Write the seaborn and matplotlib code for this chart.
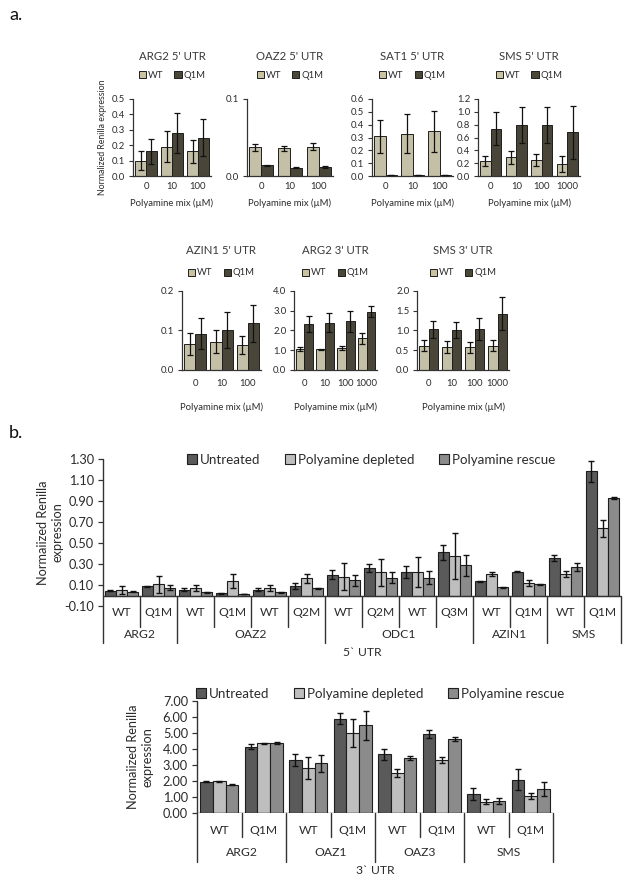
import numpy as np
import pandas as pd
import matplotlib
matplotlib.use("Agg")
import matplotlib.pyplot as plt
import matplotlib.transforms as mtrans
from matplotlib.patches import Patch
import seaborn as sns

sns.set_style("white")
plt.rcParams["font.family"] = ["Lato", "DejaVu Sans"]

# ---------------- data: panel a ----------------
conc3 = ["0", "10", "100"]
conc4 = ["0", "10", "100", "1000"]

arg2_5_wt = [0.10, 0.19, 0.16]
arg2_5_wt_err = [0.06, 0.10, 0.075]
arg2_5_q1m = [0.16, 0.28, 0.25]
arg2_5_q1m_err = [0.08, 0.13, 0.12]

oaz2_5_wt = [0.0375, 0.0358, 0.0383]
oaz2_5_wt_err = [0.0045, 0.003, 0.005]
oaz2_5_q1m = [0.0138, 0.011, 0.012]
oaz2_5_q1m_err = [0.001, 0.001, 0.001]

sat1_5_wt = [0.31, 0.33, 0.35]
sat1_5_wt_err = [0.13, 0.15, 0.16]
sat1_5_q1m = [0.006, 0.006, 0.006]
sat1_5_q1m_err = [0.002, 0.002, 0.002]

sms_5_wt = [0.23, 0.29, 0.25, 0.19]
sms_5_wt_err = [0.08, 0.10, 0.09, 0.12]
sms_5_q1m = [0.74, 0.80, 0.80, 0.68]
sms_5_q1m_err = [0.26, 0.28, 0.28, 0.41]

azin1_5_wt = [0.066, 0.071, 0.063]
azin1_5_wt_err = [0.027, 0.029, 0.023]
azin1_5_q1m = [0.092, 0.101, 0.118]
azin1_5_q1m_err = [0.040, 0.045, 0.046]

arg2_3_wt = [1.06, 1.05, 1.11, 1.60]
arg2_3_wt_err = [0.09, 0.03, 0.12, 0.28]
arg2_3_q1m = [2.33, 2.40, 2.46, 2.95]
arg2_3_q1m_err = [0.42, 0.50, 0.52, 0.28]

sms_3_wt = [0.62, 0.58, 0.57, 0.62]
sms_3_wt_err = [0.14, 0.15, 0.15, 0.13]
sms_3_q1m = [1.03, 1.02, 1.04, 1.42]
sms_3_q1m_err = [0.22, 0.20, 0.27, 0.42]

# ---------------- data: panel b (5' UTR) ----------------
b5_groups = ["ARG2", "OAZ2", "ODC1", "AZIN1", "SMS"]
b5_group_sizes = [2, 4, 4, 2, 2]
b5_labels = ["WT", "Q1M", "WT", "Q1M", "WT", "Q2M", "WT", "Q2M",
             "WT", "Q3M", "WT", "Q1M", "WT", "Q1M"]
b5_untreated = [0.045, 0.088, 0.056, 0.021, 0.055, 0.092, 0.20, 0.26,
                0.225, 0.41, 0.135, 0.225, 0.36, 1.185]
b5_untreated_err = [0.005, 0.005, 0.015, 0.005, 0.015, 0.03, 0.04, 0.04,
                    0.055, 0.07, 0.005, 0.005, 0.03, 0.10]
b5_depleted = [0.056, 0.107, 0.072, 0.139, 0.072, 0.164, 0.18, 0.22,
               0.225, 0.38, 0.205, 0.12, 0.205, 0.64]
b5_depleted_err = [0.038, 0.083, 0.025, 0.067, 0.025, 0.042, 0.13, 0.13,
                   0.145, 0.22, 0.02, 0.03, 0.03, 0.08]
b5_rescue = [0.037, 0.075, 0.031, 0.015, 0.031, 0.07, 0.145, 0.17,
             0.17, 0.29, 0.08, 0.105, 0.27, 0.925]
b5_rescue_err = [0.005, 0.025, 0.005, 0.003, 0.005, 0.005, 0.055, 0.055,
                 0.065, 0.10, 0.005, 0.005, 0.035, 0.01]

# ---------------- data: panel b (3' UTR) ----------------
b3_groups = ["ARG2", "OAZ1", "OAZ3", "SMS"]
b3_group_sizes = [2, 2, 2, 2]
b3_labels = ["WT", "Q1M", "WT", "Q1M", "WT", "Q1M", "WT", "Q1M"]
b3_untreated = [1.95, 4.15, 3.30, 5.89, 3.68, 4.93, 1.21, 2.09]
b3_untreated_err = [0.03, 0.16, 0.36, 0.33, 0.35, 0.25, 0.37, 0.67]
b3_depleted = [1.97, 4.36, 2.82, 5.01, 2.47, 3.30, 0.71, 1.04]
b3_depleted_err = [0.02, 0.03, 0.70, 0.86, 0.25, 0.20, 0.16, 0.18]
b3_rescue = [1.78, 4.36, 3.10, 5.47, 3.45, 4.62, 0.75, 1.50]
b3_rescue_err = [0.02, 0.07, 0.55, 0.88, 0.12, 0.14, 0.18, 0.44]

conditions = ["Untreated", "Polyamine depleted", "Polyamine rescue"]
genotypes = ["WT", "Q1M"]

# ---------------- style ----------------
WT_C = "#c9c3a2"
Q_C = "#4b4737"
U_C = "#5a5a5a"
D_C = "#bebebe"
R_C = "#8b8b8b"
EDGE = "#1e1e1e"
TXT = "#2b2b2b"
AXC = "#333333"

W, H = 624, 885
fig = plt.figure(figsize=(W / 100, H / 100), dpi=100)


def rect(l, t, r, b):
    return [l / W, 1 - b / H, (r - l) / W, (b - t) / H]


def add_err(ax, errs, lw, cap):
    for cont, elist in zip(ax.containers, errs):
        for bar, e in zip(cont, elist):
            x = bar.get_x() + bar.get_width() / 2
            ax.errorbar(x, bar.get_height(), yerr=e, fmt="none", ecolor="#111111",
                        elinewidth=lw, capsize=cap, capthick=lw, zorder=5,
                        clip_on=False)


def panel_a(box, concs, wt, wt_err, q, q_err, ymax, ystep, fmt, title,
            title_y, leg_y, pad, xlab_y, ylabel=False):
    ax = fig.add_axes(rect(*box))
    n = len(concs)
    df = pd.DataFrame({"conc": concs * 2, "val": wt + q,
                       "geno": ["WT"] * n + ["Q1M"] * n})
    sns.barplot(data=df, x="conc", y="val", hue="geno", order=concs,
                hue_order=genotypes, palette=[WT_C, Q_C], width=0.84,
                edgecolor=EDGE, linewidth=0.7, errorbar=None, legend=False,
                ax=ax)
    add_err(ax, [wt_err, q_err], 0.9, 2.0)
    ax.set_xlim(-0.5, n - 0.5)
    ax.set_ylim(0, ymax)
    ticks = np.arange(0, ymax + ystep / 2, ystep)
    ax.set_yticks(ticks)
    ax.set_yticklabels([fmt % t for t in ticks])
    ax.set_xticks(range(n))
    ax.set_xticklabels(concs)
    ax.set_xticks(np.arange(-0.5, n, 1), minor=True)
    ax.tick_params(axis="x", which="major", length=0, pad=pad, labelsize=6.8,
                   labelcolor=TXT)
    ax.tick_params(axis="x", which="minor", length=3, width=0.8, color=AXC,
                   direction="out")
    ax.tick_params(axis="y", length=3, width=0.8, color=AXC, direction="out",
                   pad=2.5, labelsize=6.8, labelcolor=TXT, left=True)
    for s in ["top", "right"]:
        ax.spines[s].set_visible(False)
    for s in ["left", "bottom"]:
        ax.spines[s].set_color(AXC)
        ax.spines[s].set_linewidth(0.9)
    ax.set_xlabel("")
    ax.set_ylabel("")
    ax.text(0.5, xlab_y, "Polyamine mix (\u00b5M)", transform=ax.transAxes,
            ha="center", va="center", fontsize=6.8, color=TXT)
    ax.text(0.5, title_y, title, transform=ax.transAxes, ha="center",
            va="center", fontsize=8.2, color="#3a3a3a")
    handles = [Patch(facecolor=WT_C, edgecolor=EDGE, lw=0.7),
               Patch(facecolor=Q_C, edgecolor=EDGE, lw=0.7)]
    ax.legend(handles, genotypes, ncol=2, loc="center",
              bbox_to_anchor=(0.5, leg_y), frameon=False, fontsize=6.8,
              handlelength=0.75, handleheight=0.75, handletextpad=0.2,
              columnspacing=1.2, labelcolor=TXT, borderpad=0)
    if ylabel:
        ax.text(-0.39, 0.5, "Normalized Renilla expression",
                transform=ax.transAxes, rotation=90, ha="center", va="center",
                fontsize=6.3, color=TXT)
    return ax


# top row of panel a: axes top 99, bottom 176
tr = dict(title_y=(176 - 57) / 77, leg_y=(176 - 75) / 77, pad=4.5,
          xlab_y=-(203 - 176) / 77)
panel_a((133, 99, 211, 176), conc3, arg2_5_wt, arg2_5_wt_err, arg2_5_q1m,
        arg2_5_q1m_err, 0.5, 0.1, "%.1f", "ARG2 5' UTR", ylabel=True, **tr)
panel_a((247, 99, 333, 176), conc3, oaz2_5_wt, oaz2_5_wt_err, oaz2_5_q1m,
        oaz2_5_q1m_err, 0.1, 0.1, "%.1f", "OAZ2 5' UTR", **tr)
panel_a((372, 99, 453, 176), conc3, sat1_5_wt, sat1_5_wt_err, sat1_5_q1m,
        sat1_5_q1m_err, 0.6, 0.1, "%.1f", "SAT1 5' UTR", **tr)
panel_a((478, 99, 580, 176), conc4, sms_5_wt, sms_5_wt_err, sms_5_q1m,
        sms_5_q1m_err, 1.2, 0.2, "%.1f", "SMS 5' UTR", **tr)

# bottom row of panel a: axes top 291, bottom 370
br = dict(title_y=(370 - 251) / 79, leg_y=(370 - 273) / 79, pad=6.5,
          xlab_y=-(407 - 370) / 79)
panel_a((182, 291, 261, 370), conc3, azin1_5_wt, azin1_5_wt_err, azin1_5_q1m,
        azin1_5_q1m_err, 0.2, 0.1, "%.1f", "AZIN1 5' UTR", **br)
panel_a((294, 291, 377, 370), conc4, arg2_3_wt, arg2_3_wt_err, arg2_3_q1m,
        arg2_3_q1m_err, 4.0, 1.0, "%.1f", "ARG2 3' UTR", **br)
panel_a((417, 291, 509, 370), conc4, sms_3_wt, sms_3_wt_err, sms_3_q1m,
        sms_3_q1m_err, 2.0, 0.5, "%.1f", "SMS 3' UTR", **br)


def panel_b(box, groups, sizes, labels, u, ue, d, de, r, re, ylim, ystep,
            cat_line, grp_line, cat_y, grp_y, sec_y, sec_label, leg_xy,
            ylab_x, width):
    ax = fig.add_axes(rect(*box))
    n = len(labels)
    keys = [f"{i}:{lab}" for i, lab in enumerate(labels)]
    df = pd.DataFrame({"key": keys * 3, "val": u + d + r,
                       "cond": [c for c in conditions for _ in range(n)]})
    sns.barplot(data=df, x="key", y="val", hue="cond", order=keys,
                hue_order=conditions, palette=[U_C, D_C, R_C], width=width,
                edgecolor=EDGE, linewidth=0.8, errorbar=None, legend=False,
                ax=ax)
    add_err(ax, [ue, de, re], 1.0, 2.3)
    ax.set_xlim(-0.5, n - 0.5)
    ax.set_ylim(*ylim)
    ticks = np.arange(ylim[0], ylim[1] + ystep / 2, ystep)
    ax.set_yticks(ticks)
    ax.set_yticklabels(["%.2f" % t for t in ticks])
    ax.set_xticks([])
    ax.set_xlabel("")
    ax.set_ylabel("")
    ax.tick_params(axis="y", length=3.5, width=0.9, color=AXC, direction="out",
                   pad=3, labelsize=9.2, labelcolor=TXT, left=True)
    for s in ["top", "right", "bottom", "left"]:
        ax.spines[s].set_visible(False)
    ax.axhline(0, color=AXC, lw=1.0, zorder=6)
    tr_b = mtrans.blended_transform_factory(ax.transData, ax.transAxes)
    y0 = (0 - ylim[0]) / (ylim[1] - ylim[0])
    ax.plot([0, 0], [1, grp_line], transform=ax.transAxes, color=AXC, lw=1.0,
            clip_on=False)
    ends = np.cumsum(sizes)
    for k in range(1, n + 1):
        bottom = grp_line if k in ends else cat_line
        ax.plot([k - 0.5, k - 0.5], [y0, bottom], transform=tr_b, color=AXC,
                lw=1.0, clip_on=False)
    for i, lab in enumerate(labels):
        ax.text(i, cat_y, lab, transform=tr_b, ha="center", va="center",
                fontsize=8.7, color=TXT)
    start = 0
    for g, s in zip(groups, sizes):
        ax.text(start + (s - 1) / 2, grp_y, g, transform=tr_b, ha="center",
                va="center", fontsize=8.7, color=TXT)
        start += s
    ax.text(0.5, sec_y, sec_label, transform=ax.transAxes, ha="center",
            va="center", fontsize=8.7, color=TXT)
    handles = [Patch(facecolor=c, edgecolor=EDGE, lw=0.8)
               for c in [U_C, D_C, R_C]]
    ax.legend(handles, conditions, ncol=3, loc="center",
              bbox_to_anchor=leg_xy, frameon=False, fontsize=9.6,
              handlelength=0.75, handleheight=0.75, handletextpad=0.25,
              columnspacing=1.8, labelcolor=TXT, borderpad=0)
    ax.text(ylab_x, 0.5, "Normaiized Renilla\nexpression",
            transform=ax.transAxes, rotation=90, ha="center", va="center",
            fontsize=9.2, color=TXT, linespacing=1.2)
    return ax


# panel b top: axes top 459 (1.30), bottom 606 (-0.10)
hb = 147.0
panel_b((103, 459, 621, 606), b5_groups, b5_group_sizes, b5_labels,
        b5_untreated, b5_untreated_err, b5_depleted, b5_depleted_err,
        b5_rescue, b5_rescue_err, (-0.10, 1.30), 0.20,
        cat_line=-(627 - 606) / hb, grp_line=-(643 - 606) / hb,
        cat_y=-(612 - 606) / hb, grp_y=-(635 - 606) / hb,
        sec_y=-(653 - 606) / hb, sec_label="5` UTR",
        leg_xy=((371 - 103) / 518, (606 - 460) / hb),
        ylab_x=-(103 - 50) / 518, width=0.9)

# panel b bottom: axes top 701 (7.00), bottom 813 (0.00)
hb2 = 112.0
panel_b((197, 701, 553, 813), b3_groups, b3_group_sizes, b3_labels,
        b3_untreated, b3_untreated_err, b3_depleted, b3_depleted_err,
        b3_rescue, b3_rescue_err, (0.0, 7.0), 1.0,
        cat_line=-(837 - 813) / hb2, grp_line=-(862 - 813) / hb2,
        cat_y=-(830 - 813) / hb2, grp_y=-(853 - 813) / hb2,
        sec_y=-(871 - 813) / hb2, sec_label="3` UTR",
        leg_xy=((380 - 197) / 356, (813 - 694) / hb2),
        ylab_x=-(197 - 140) / 356, width=0.86)

fig.text(9 / W, 1 - 15 / H, "a.", fontsize=13, color="#111111", va="center")
fig.text(9 / W, 1 - 433 / H, "b.", fontsize=13, color="#111111", va="center")

fig.savefig("out.png", dpi=100, facecolor="white")
